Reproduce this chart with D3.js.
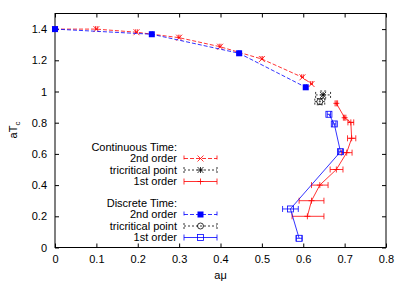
<!DOCTYPE html>
<html lang="en">
<head>
<meta charset="UTF-8">
<title>aTc vs a mu</title>
<script src="https://d3js.org/d3.v7.min.js"></script>
<style>
    body { margin: 0; background: #fff; }
    text { font-family: "Liberation Sans", Arial, Helvetica, sans-serif; font-size: 11px; fill: #000; }
</style>
</head>
<body>
<div id="chart"></div>
<script>
// continuous time, 2nd order
const ct2X = [0, 0.1, 0.197, 0.3, 0.399, 0.5, 0.598, 0.62];
const ct2Y = [1.4, 1.4, 1.38, 1.345, 1.287, 1.208, 1.091, 1.048];
// continuous time, tricritical point
const ctTriX = [0.648], ctTriY = [0.978], ctTriXErr = [0.018], ctTriYErr = [0.025];
// continuous time, 1st order
const ct1X = [0.68, 0.70, 0.715, 0.717, 0.705, 0.68, 0.64, 0.62, 0.61];
const ct1Y = [0.924, 0.832, 0.802, 0.70, 0.608, 0.50, 0.40, 0.30, 0.20];
const ct1XLo = [0.003, 0.003, 0.007, 0.01, 0.013, 0.015, 0.02, 0.03, 0.037];
const ct1XHi = [0.003, 0.003, 0.007, 0.01, 0.013, 0.016, 0.02, 0.03, 0.04];
// discrete time, 2nd order
const dt2X = [0, 0.234, 0.445, 0.606];
const dt2Y = [1.4, 1.367, 1.245, 1.027];
// discrete time, tricritical point
const dtTriX = [0.64], dtTriY = [0.935], dtTriXErr = [0.012], dtTriYErr = [0.02];
// discrete time, 1st order
const dt1X = [0.662, 0.675, 0.69, 0.569, 0.59];
const dt1Y = [0.854, 0.792, 0.614, 0.247, 0.059];
const dt1XErr = [0.004, 0.004, 0.005, 0.019, 0.007];

const xTicks = [0, 0.1, 0.2, 0.3, 0.4, 0.5, 0.6, 0.7, 0.8];
const yTicks = [0, 0.2, 0.4, 0.6, 0.8, 1, 1.2, 1.4];

const W = 407, H = 284;
const margin = { top: 13.5, right: 21, bottom: 36.5, left: 55 };

const svg = d3.select("#chart").append("svg")
    .attr("width", W).attr("height", H);

const x = d3.scaleLinear().domain([0, 0.8]).range([margin.left, W - margin.right]);
const y = d3.scaleLinear().domain([0, 1.5]).range([H - margin.bottom, margin.top]);

// axes, gnuplot style: ticks inward on all sides
const tk = 4;
svg.append("g").attr("transform", "translate(0," + y(0) + ")")
    .call(d3.axisBottom(x).tickValues(xTicks).tickSizeInner(-tk).tickSizeOuter(0).tickPadding(8).tickFormat(d3.format("")));
svg.append("g").attr("transform", "translate(0," + y(1.5) + ")")
    .call(d3.axisTop(x).tickValues(xTicks).tickSizeInner(-tk).tickSizeOuter(0).tickFormat(""));
svg.append("g").attr("transform", "translate(" + x(0) + ",0)")
    .call(d3.axisLeft(y).tickValues(yTicks).tickSizeInner(-tk).tickSizeOuter(0).tickPadding(8).tickFormat(d3.format("")));
svg.append("g").attr("transform", "translate(" + x(0.8) + ",0)")
    .call(d3.axisRight(y).tickValues(yTicks).tickSizeInner(-tk).tickSizeOuter(0).tickFormat(""));
svg.selectAll(".domain").remove();
svg.selectAll(".tick text").style("font-size", "11px").attr("font-family", null);
svg.append("rect")
    .attr("x", x(0)).attr("y", y(1.5))
    .attr("width", x(0.8) - x(0)).attr("height", y(0) - y(1.5))
    .attr("fill", "none").attr("stroke", "#000").attr("stroke-width", 1);

// axis labels
svg.append("text").attr("x", (x(0) + x(0.8)) / 2).attr("y", 279)
    .attr("text-anchor", "middle").text("aμ");
const yl = svg.append("text").attr("transform", "translate(17,130) rotate(-90)")
    .attr("text-anchor", "middle");
yl.append("tspan").text("aT");
yl.append("tspan").attr("dy", 3).style("font-size", "8px").text("c");

const red = "#ff0000", blue = "#0000ff", blk = "#000000";
const line = d3.line().x(d => x(d[0])).y(d => y(d[1]));
const sw = 0.8;

function drawMarker(g, kind, cx, cy, color) {
    const s = 3;
    if (kind === "x") {
        g.append("path").attr("d", `M${cx - s},${cy - s}L${cx + s},${cy + s}M${cx - s},${cy + s}L${cx + s},${cy - s}`)
            .attr("stroke", color).attr("stroke-width", sw).attr("fill", "none");
    } else if (kind === "plus") {
        g.append("path").attr("d", `M${cx - s},${cy}L${cx + s},${cy}M${cx},${cy - s}L${cx},${cy + s}`)
            .attr("stroke", color).attr("stroke-width", sw).attr("fill", "none");
    } else if (kind === "star") {
        g.append("path").attr("d", `M${cx - s},${cy}L${cx + s},${cy}M${cx},${cy - s}L${cx},${cy + s}M${cx - s},${cy - s}L${cx + s},${cy + s}M${cx - s},${cy + s}L${cx + s},${cy - s}`)
            .attr("stroke", color).attr("stroke-width", sw).attr("fill", "none");
    } else if (kind === "fsq") {
        g.append("rect").attr("x", cx - s).attr("y", cy - s).attr("width", 2 * s).attr("height", 2 * s)
            .attr("fill", color);
    } else if (kind === "osq") {
        g.append("rect").attr("x", cx - s).attr("y", cy - s).attr("width", 2 * s).attr("height", 2 * s)
            .attr("fill", "none").attr("stroke", color).attr("stroke-width", sw);
    } else if (kind === "ocirc") {
        g.append("circle").attr("cx", cx).attr("cy", cy).attr("r", s)
            .attr("fill", "none").attr("stroke", color).attr("stroke-width", sw);
    }
}

function drawSeries(opt) {
    const g = svg.append("g");
    const pts = opt.xs.map((v, i) => [v, opt.ys[i]]);
    if (opt.connect) {
        g.append("path").datum(pts).attr("d", line)
            .attr("fill", "none").attr("stroke", opt.color).attr("stroke-width", sw)
            .attr("stroke-dasharray", opt.dash || null);
    }
    pts.forEach((p, i) => {
        const cx = x(p[0]), cy = y(p[1]);
        const lo = opt.xlo ? opt.xlo[i] : 0.002, hi = opt.xhi ? opt.xhi[i] : 0.002;
        const x0 = x(p[0] - lo), x1 = x(p[0] + hi);
        g.append("path").attr("d", `M${x0},${cy}L${x1},${cy}M${x0},${cy - 3}L${x0},${cy + 3}M${x1},${cy - 3}L${x1},${cy + 3}`)
            .attr("stroke", opt.color).attr("stroke-width", sw).attr("fill", "none").attr("stroke-dasharray", opt.dash || null);
        if (opt.yerr) {
            const y0 = y(p[1] - opt.yerr[i]), y1 = y(p[1] + opt.yerr[i]);
            g.append("path").attr("d", `M${cx},${y0}L${cx},${y1}M${cx - 3},${y0}L${cx + 3},${y0}M${cx - 3},${y1}L${cx + 3},${y1}`)
                .attr("stroke", opt.color).attr("stroke-width", sw).attr("fill", "none").attr("stroke-dasharray", opt.dash || null);
        }
        drawMarker(g, opt.marker, cx, cy, opt.color);
    });
}

drawSeries({ xs: ct2X, ys: ct2Y, color: red, dash: "4,2", marker: "x", connect: true });
drawSeries({ xs: ctTriX, ys: ctTriY, color: blk, dash: "2,2", marker: "star", xlo: ctTriXErr, xhi: ctTriXErr, yerr: ctTriYErr });
drawSeries({ xs: ct1X, ys: ct1Y, color: red, marker: "plus", connect: true, xlo: ct1XLo, xhi: ct1XHi });
drawSeries({ xs: dt2X, ys: dt2Y, color: blue, dash: "4,2", marker: "fsq", connect: true });
drawSeries({ xs: dtTriX, ys: dtTriY, color: blk, dash: "2,2", marker: "ocirc", xlo: dtTriXErr, xhi: dtTriXErr, yerr: dtTriYErr });
drawSeries({ xs: dt1X, ys: dt1Y, color: blue, marker: "osq", connect: true, xlo: dt1XErr, xhi: dt1XErr });

// legend
const legend = [
    { label: "Continuous Time:", y: 147 },
    { label: "2nd order", y: 158.5, color: red, dash: "4,2", marker: "x" },
    { label: "tricritical point", y: 170, color: blk, dash: "2,2", marker: "star" },
    { label: "1st order", y: 181.5, color: red, marker: "plus" },
    { label: "Discrete Time:", y: 203 },
    { label: "2nd order", y: 214.5, color: blue, dash: "4,2", marker: "fsq" },
    { label: "tricritical point", y: 226, color: blk, dash: "2,2", marker: "ocirc" },
    { label: "1st order", y: 237.5, color: blue, marker: "osq" }
];
const lg = svg.append("g");
const lx0 = 184, lx1 = 217, ltx = 177;
legend.forEach(d => {
    lg.append("text").attr("x", ltx).attr("y", d.y).attr("dy", "0.35em")
        .attr("text-anchor", "end").text(d.label);
    if (!d.color) return;
    lg.append("path").attr("d", `M${lx0},${d.y}L${lx1},${d.y}M${lx0},${d.y - 3}L${lx0},${d.y + 3}M${lx1},${d.y - 3}L${lx1},${d.y + 3}`)
        .attr("stroke", d.color).attr("stroke-width", sw).attr("fill", "none").attr("stroke-dasharray", d.dash || null);
    drawMarker(lg, d.marker, (lx0 + lx1) / 2, d.y, d.color);
});
</script>
</body>
</html>
